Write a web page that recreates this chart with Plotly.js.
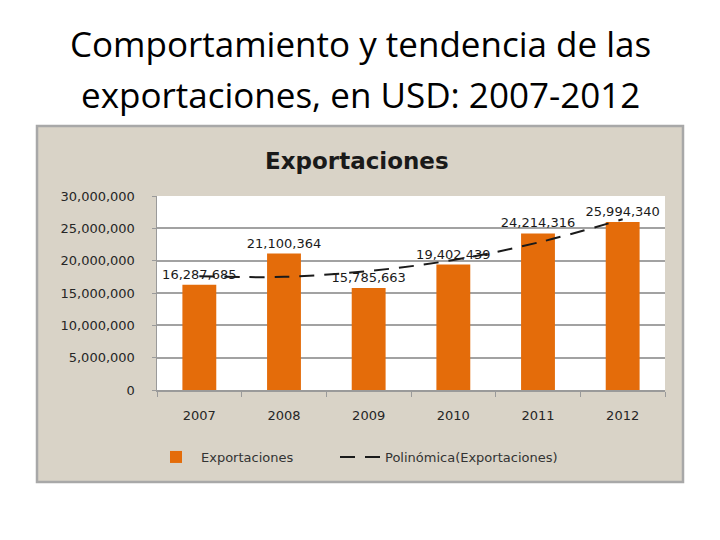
<!DOCTYPE html>
<html>
<head>
<meta charset="utf-8">
<script src="https://cdn.plot.ly/plotly-3.0.1.min.js"></script>
<style>
  html, body { margin: 0; padding: 0; background: #fff; }
  #chart { width: 720px; height: 540px; }
</style>
</head>
<body>
<div id="chart"></div>
<script>
const years = ['2007', '2008', '2009', '2010', '2011', '2012'];
const exportaciones = [16287685, 21100364, 15785663, 19402439, 24214316, 25994340];
// tendencia polinómica
const tendencia = [17600000, 17500000, 18400000, 20100000, 22800000, 26400000];
const yTicks = [0, 5000000, 10000000, 15000000, 20000000, 25000000, 30000000];

const tickFont = { family: 'DejaVu Sans', size: 13, color: '#262626' };
const legendFont = { family: 'DejaVu Sans', size: 13, color: '#333333' };

// plot area in pixels: x 157..665, y 196..390
function px(x) { return (x - 157) / 508; }
function py(y) { return (390 - y) / 194; }

const bars = {
  type: 'bar',
  name: 'Exportaciones',
  x: years,
  y: exportaciones,
  marker: { color: '#E46C0A' },
  width: 0.4,
  text: exportaciones.map(v => v.toLocaleString('en-US')),
  textposition: 'outside',
  constraintext: 'none',
  textfont: { family: 'DejaVu Sans', size: 13, color: '#1a1a1a' },
  cliponaxis: false,
  hoverinfo: 'x+y',
  legend: 'legend',
};

const trend = {
  type: 'scatter',
  mode: 'lines',
  name: 'Polinómica(Exportaciones)',
  x: years,
  y: tendencia,
  line: { color: '#1a1a1a', width: 2, dash: '15px,10px', shape: 'spline' },
  hoverinfo: 'skip',
  legend: 'legend2',
};

const layout = {
  width: 720,
  height: 540,
  margin: { l: 157, r: 55, t: 196, b: 150 },
  paper_bgcolor: '#ffffff',
  plot_bgcolor: '#ffffff',
  showlegend: true,
  bargap: 0.6,
  xaxis: {
    type: 'category',
    showline: true,
    linecolor: '#9a9a9a',
    linewidth: 1.5,
    ticks: 'outside',
    tickson: 'boundaries',
    ticklen: 5,
    tickcolor: '#9a9a9a',
    tickfont: tickFont,
    ticklabelstandoff: 13,
    showgrid: false,
  },
  yaxis: {
    range: [0, 30000000],
    tickvals: yTicks,
    tickformat: ',d',
    showline: true,
    linecolor: '#9a9a9a',
    linewidth: 1.5,
    ticks: 'outside',
    ticklen: 4,
    tickcolor: '#9a9a9a',
    tickfont: tickFont,
    ticklabelstandoff: 14,
    gridcolor: '#a2a2a2',
    gridwidth: 2,
    zeroline: false,
  },
  legend: {
    orientation: 'h',
    x: px(151),
    xanchor: 'left',
    y: py(457),
    yanchor: 'middle',
    font: legendFont,
    bgcolor: 'rgba(0,0,0,0)',
    itemwidth: 40,
  },
  legend2: {
    orientation: 'h',
    x: px(335),
    xanchor: 'left',
    y: py(457),
    yanchor: 'middle',
    font: legendFont,
    bgcolor: 'rgba(0,0,0,0)',
    itemwidth: 40,
  },
  shapes: [
    {
      type: 'rect', xref: 'paper', yref: 'paper', layer: 'below',
      x0: px(37), x1: px(683), y0: py(482), y1: py(126),
      fillcolor: '#d9d3c7',
      line: { color: '#a8a8a8', width: 2.5 },
    },
    {
      type: 'rect', xref: 'paper', yref: 'paper', layer: 'below',
      x0: 0, x1: 1, y0: 0, y1: 1,
      fillcolor: '#ffffff',
      line: { width: 0 },
    },
  ],
  annotations: [
    {
      text: 'Comportamiento y tendencia de las',
      xref: 'paper', yref: 'paper', x: px(360), y: py(44),
      xanchor: 'center', yanchor: 'middle', showarrow: false,
      font: { family: 'Open Sans', size: 35, color: '#000000' },
    },
    {
      text: 'exportaciones, en USD: 2007-2012',
      xref: 'paper', yref: 'paper', x: px(360), y: py(94),
      xanchor: 'center', yanchor: 'middle', showarrow: false,
      font: { family: 'Open Sans', size: 35, color: '#000000' },
    },
    {
      text: '<b>Exportaciones</b>',
      xref: 'paper', yref: 'paper', x: px(357), y: py(161),
      xanchor: 'center', yanchor: 'middle', showarrow: false,
      font: { family: 'DejaVu Sans', size: 23, color: '#1a1a1a' },
    },
  ],
};

Plotly.newPlot('chart', [bars, trend], layout, { displayModeBar: false, staticPlot: true });
</script>
</body>
</html>
